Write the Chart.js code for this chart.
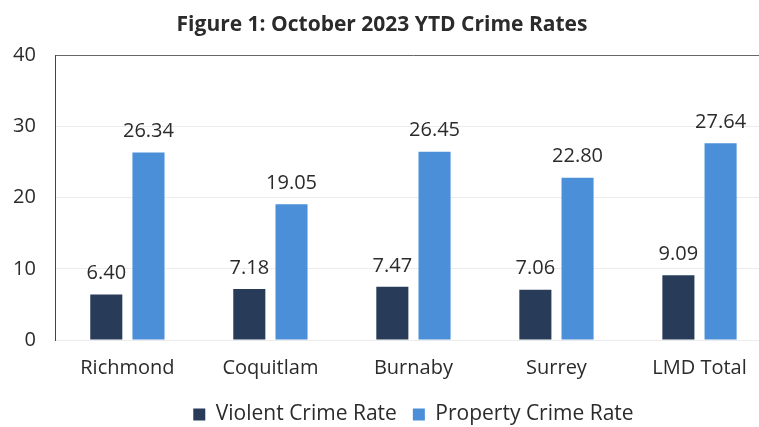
<!DOCTYPE html>
<html>
<head>
<meta charset="utf-8">
<script src="https://cdn.jsdelivr.net/npm/chart.js@4.4.0/dist/chart.umd.min.js"></script>
<style>
  html, body { margin: 0; padding: 0; background: #fff; overflow: hidden; }
  #wrap { position: relative; width: 771px; height: 427px; }
</style>
</head>
<body>
<div id="wrap"><canvas id="crime-chart"></canvas></div>
<script>
// 数据
const categories = ['Richmond', 'Coquitlam', 'Burnaby', 'Surrey', 'LMD Total'];
const violentRates = [6.40, 7.18, 7.47, 7.06, 9.09];
const propertyRates = [26.34, 19.05, 26.45, 22.80, 27.64];
const yTicks = [0, 10, 20, 30, 40];

const textColor = '#2b2b2b';
const fontFamily = '"Open Sans", "Noto Sans", sans-serif';

// 柱顶数值标签
const valueLabels = {
    id: 'valueLabels',
    afterDatasetsDraw(chart) {
        const ctx = chart.ctx;
        ctx.save();
        ctx.font = '20px ' + fontFamily;
        ctx.fillStyle = textColor;
        ctx.textAlign = 'center';
        ctx.textBaseline = 'bottom';
        chart.data.datasets.forEach((ds, i) => {
            chart.getDatasetMeta(i).data.forEach((bar, j) => {
                ctx.fillText(ds.data[j].toFixed(2), bar.x, bar.y - 11);
            });
        });
        ctx.restore();
    }
};

const canvas = document.getElementById('crime-chart');
new Chart(canvas, {
    type: 'bar',
    data: {
        labels: categories,
        datasets: [{
            label: 'Violent Crime Rate',
            data: violentRates,
            backgroundColor: '#283c5a',
            categoryPercentage: 0.59,
            barPercentage: 0.76
        }, {
            label: 'Property Crime Rate',
            data: propertyRates,
            backgroundColor: '#4a8fd7',
            categoryPercentage: 0.59,
            barPercentage: 0.76
        }]
    },
    options: {
        responsive: true,
        maintainAspectRatio: false,
        animation: false,
        layout: { padding: { left: -7, right: 0, top: 0, bottom: -8 } },
        plugins: {
            title: {
                display: true,
                text: 'Figure 1: October 2023 YTD Crime Rates',
                color: textColor,
                font: { family: fontFamily, size: 21, weight: 'bold' },
                padding: { top: 12, bottom: 18 }
            },
            legend: {
                position: 'bottom',
                fullSize: false,
                labels: {
                    color: textColor,
                    font: { family: fontFamily, size: 21 },
                    boxWidth: 12,
                    boxHeight: 12,
                    padding: 16
                }
            },
            tooltip: { enabled: false }
        },
        scales: {
            x: {
                grid: { display: false },
                border: { display: false },
                ticks: {
                    color: textColor,
                    font: { family: fontFamily, size: 20 },
                    padding: 8
                }
            },
            y: {
                min: 0,
                max: 40,
                afterBuildTicks(axis) {
                    axis.ticks = yTicks.map(v => ({ value: v }));
                },
                grid: {
                    color: ctx => ctx.tick.value === 40 ? '#666' : '#ececec',
                    drawTicks: false
                },
                border: { display: true, color: '#444', width: 1 },
                ticks: {
                    color: textColor,
                    font: { family: fontFamily, size: 20 },
                    padding: 20
                }
            }
        }
    },
    plugins: [valueLabels]
});
</script>
</body>
</html>
